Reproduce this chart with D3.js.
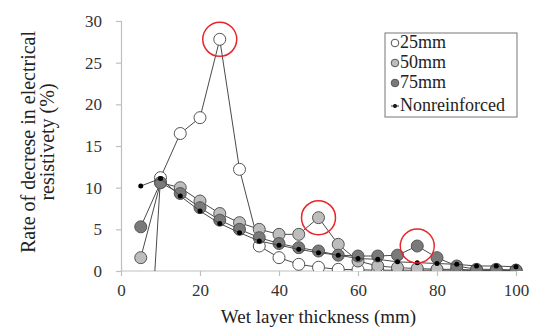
<!DOCTYPE html>
<html>
<head>
<meta charset="utf-8">
<script src="https://cdn.jsdelivr.net/npm/d3@7"></script>
<style>
body{margin:0;background:#fff;}
</style>
</head>
<body>
<div id="g1"></div>
<script>
// data
var thickness = [5,10,15,20,25,30,35,40,45,50,55,60,65,70,75,80,85,90,95,100];
var mm25  = [-28,11.2,16.5,18.4,27.8,12.2,3.0,1.6,0.8,0.45,0.2,0.15,0.1,0.1,0.1,0.1,0.1,0.05,0.05,0.05];
var mm50  = [1.6,10.6,10.0,8.4,6.9,5.8,5.0,4.4,4.4,6.4,3.2,1.2,0.6,0.4,0.3,0.2,0.2,0.1,0.1,0.1];
var mm75  = [5.3,10.6,9.3,7.6,6.1,5.0,4.0,3.3,2.8,2.4,1.9,1.8,1.8,1.9,3.0,1.6,0.6,0.2,0.2,0.1];
var nonre = [10.2,11.1,9.0,7.2,5.7,4.6,3.6,3.1,2.6,2.2,1.9,1.5,1.4,1.1,1.0,0.9,0.8,0.6,0.6,0.5];
var seriesNames = ["25mm","50mm","75mm","Nonreinforced"];
var xTicks = [0,20,40,60,80,100];
var yTicks = [0,5,10,15,20,25,30];
// highlighted points (series index, x)
var highlights = [[0,25],[1,50],[2,75]];

var font = "Liberation Serif";
var w = 533, h = 329;
var margin = {top:21, right:17, bottom:58, left:121};
var svg = d3.select("#g1").append("svg").attr("width",w).attr("height",h)
  .attr("font-family", font);

var x = d3.scaleLinear().domain([0,100]).range([margin.left, w-margin.right]);
var y = d3.scaleLinear().domain([0,30]).range([h-margin.bottom, margin.top]);

var allSeries = [mm25, mm50, mm75, nonre];
var fills = ["#ffffff","#bdbdbd","#7a7a7a","#000000"];
var radius = [6,6,6,2.5];

svg.append("clipPath").attr("id","clip").append("rect")
  .attr("x", margin.left-10).attr("y", margin.top-10)
  .attr("width", w-margin.left-margin.right+20).attr("height", y(0)-margin.top+10);

// axes
var xAxis = d3.axisBottom(x).tickValues(xTicks).tickSize(5).tickPadding(8);
var yAxis = d3.axisLeft(y).tickValues(yTicks).tickSize(5).tickPadding(14);
var gx = svg.append("g").attr("transform","translate(0,"+y(0)+")").call(xAxis);
var gy = svg.append("g").attr("transform","translate("+margin.left+",0)").call(yAxis);
[gx,gy].forEach(function(g){
  g.attr("font-family", font).attr("font-size", 17);
  g.selectAll("path,line").attr("stroke","#bfbfbf").attr("stroke-width",1.2);
  g.selectAll("text").attr("fill","#333");
});
gx.select(".domain").attr("d","M"+x(0)+",0H"+x(100));

var line = d3.line().x(function(d,i){return x(thickness[i]);}).y(function(d){return y(d);});
var plot = svg.append("g").attr("clip-path","url(#clip)");

allSeries.forEach(function(s,k){
  var g = plot.append("g");
  g.append("path").attr("d", line(s)).attr("fill","none")
    .attr("stroke","#4a4a4a").attr("stroke-width",1);
  g.selectAll("circle").data(s).enter().append("circle")
    .attr("cx",function(d,i){return x(thickness[i]);})
    .attr("cy",function(d){return y(d);})
    .attr("r",radius[k])
    .attr("fill",fills[k])
    .attr("stroke", k==3 ? "none" : "#555")
    .attr("stroke-width",1);
});

// red circles
svg.selectAll(".hl").data(highlights).enter().append("circle")
  .attr("cx",function(d){return x(d[1]);})
  .attr("cy",function(d){return y(allSeries[d[0]][thickness.indexOf(d[1])]);})
  .attr("r",17).attr("fill","none").attr("stroke","#e8262b").attr("stroke-width",1.5);

// legend
var lg = svg.append("g").attr("transform","translate(385,33)");
lg.append("rect").attr("width",132).attr("height",84).attr("fill","#fff")
  .attr("stroke","#777").attr("stroke-width",1);
seriesNames.forEach(function(n,k){
  var base = [15,35,55,78][k];
  var cy = base - 5;
  lg.append("circle").attr("cx",10).attr("cy",cy).attr("r", k==3 ? 2 : 3.8)
    .attr("fill",fills[k]).attr("stroke", k==3 ? "none" : "#555");
  if(k==3) lg.append("line").attr("x1",6).attr("x2",14).attr("y1",cy).attr("y2",cy).attr("stroke","#333");
  lg.append("text").attr("x",15).attr("y",base).attr("font-size",18).attr("fill","#222").text(n);
});

// axis titles
svg.append("text").attr("x",(x(0)+x(100))/2).attr("y",323).attr("text-anchor","middle")
  .attr("font-size",19).attr("fill","#222").text("Wet layer thickness (mm)");
var yt = svg.append("g").attr("transform","translate(35,142) rotate(-90)")
  .attr("font-size",20).attr("fill","#222");
yt.append("text").attr("text-anchor","middle").attr("y",0).text("Rate of decrese in electrical");
yt.append("text").attr("text-anchor","middle").attr("y",19).text("resistivety (%)");
</script>
</body>
</html>
